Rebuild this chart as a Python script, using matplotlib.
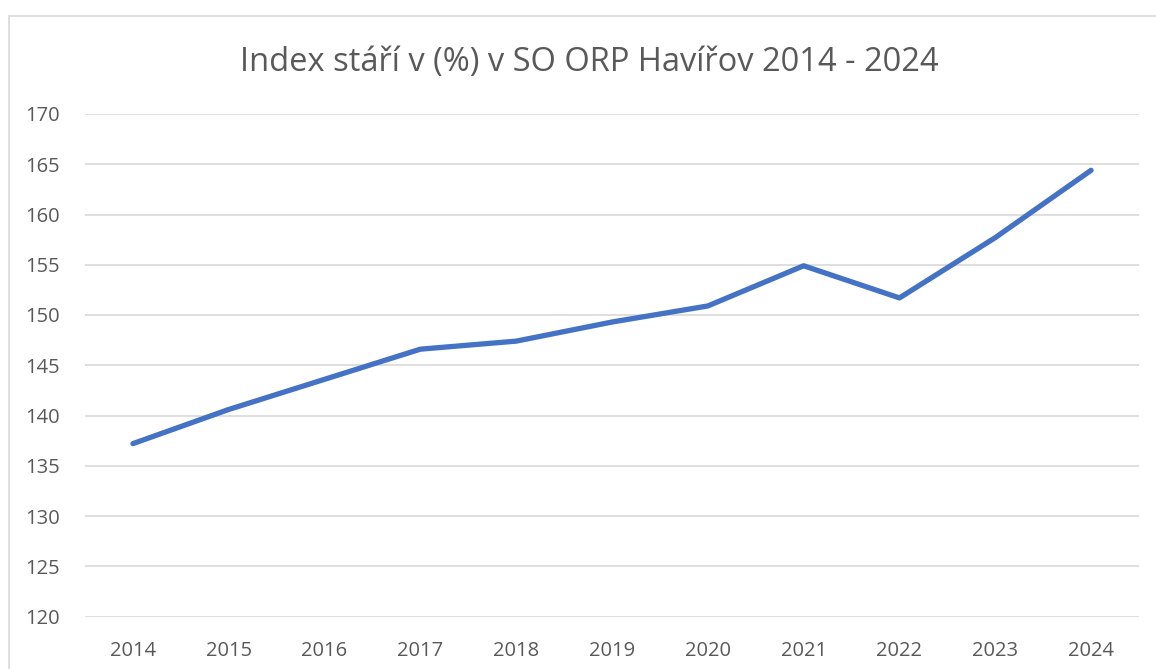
import numpy as np
import matplotlib.pyplot as plt
from matplotlib.patches import Rectangle

years = ['2014', '2015', '2016', '2017', '2018', '2019', '2020', '2021', '2022', '2023', '2024']
index_stari = [137.2, 140.6, 143.6, 146.6, 147.4, 149.3, 150.9, 154.9, 151.7, 157.7, 164.4]
y_ticks = [120, 125, 130, 135, 140, 145, 150, 155, 160, 165, 170]

plt.rcParams['font.family'] = ['Open Sans', 'DejaVu Sans']

W, H = 1156, 669
fig = plt.figure(figsize=(W / 100, H / 100), dpi=100)
ax = fig.add_axes([85 / W, 1 - 616.5 / H, (1139 - 85) / W, (616.5 - 114) / H])

# chart border (runs off the right and bottom edges)
fig.patches.append(Rectangle((8.5 / W, -0.2), 1.2, 1.2 - 15.5 / H, transform=fig.transFigure,
                             fill=False, edgecolor='#d9d9d9', linewidth=1.2))

x = np.arange(len(years))
ax.plot(x, index_stari, color='#4472c4', linewidth=3.8, solid_capstyle='round', solid_joinstyle='round')

ax.set_xlim(-0.5, len(years) - 0.5)
ax.set_ylim(120, 170)
ax.set_yticks(y_ticks)
ax.set_xticks(x)
ax.set_xticklabels(years)
ax.grid(axis='y', color='#d9d9d9', linewidth=1.2)
ax.set_axisbelow(True)
for s in ax.spines.values():
    s.set_visible(False)
ax.tick_params(length=0, labelsize=14.5, labelcolor='#595959')
ax.tick_params(axis='x', pad=18)
ax.tick_params(axis='y', pad=18)

fig.text(589 / W, 1 - 62 / H, 'Index stáří v (%) v SO ORP Havířov 2014 - 2024',
         ha='center', va='center', fontsize=23.5, color='#595959')

fig.savefig('out.png', dpi=100)
